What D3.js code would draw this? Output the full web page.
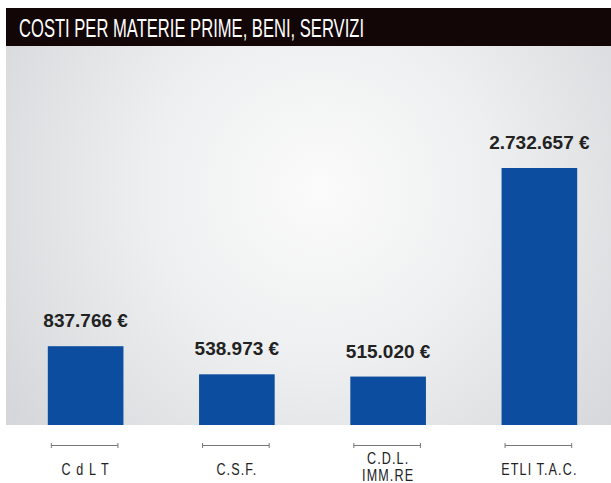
<!DOCTYPE html>
<html>
<head>
<meta charset="utf-8">
<script src="https://cdn.jsdelivr.net/npm/d3@7"></script>
<style>
  body { margin: 0; background: #fff; }
</style>
</head>
<body>
<div id="chart"></div>
<script>
// Data
const categories = ["C d L T", "C.S.F.", "C.D.L.\nIMM.RE", "ETLI T.A.C."];
const values = [837766, 538973, 515020, 2732657];
const valueLabels = ["837.766 €", "538.973 €", "515.020 €", "2.732.657 €"];
const title = "COSTI PER MATERIE PRIME, BENI, SERVIZI";

const W = 611, H = 483;
const panel = { left: 6, top: 46, right: 611, bottom: 425 };

const svg = d3.select("#chart")
  .append("svg")
  .attr("width", W)
  .attr("height", H);

// background gradient
const defs = svg.append("defs");
const grad = defs.append("radialGradient")
  .attr("id", "bg")
  .attr("gradientUnits", "userSpaceOnUse")
  .attr("cx", 320).attr("cy", 190)
  .attr("r", 380);
grad.append("stop").attr("offset", "0%").attr("stop-color", "#fbfbfb");
grad.append("stop").attr("offset", "45%").attr("stop-color", "#eeeff0");
grad.append("stop").attr("offset", "100%").attr("stop-color", "#d6d7da");

svg.append("rect")
  .attr("x", panel.left)
  .attr("y", panel.top)
  .attr("width", panel.right - panel.left)
  .attr("height", panel.bottom - panel.top)
  .attr("fill", "url(#bg)");

// title bar
svg.append("rect")
  .attr("x", 6).attr("y", 8)
  .attr("width", W - 6).attr("height", 38)
  .attr("fill", "#120606");

svg.append("text")
  .attr("x", 19).attr("y", 37)
  .attr("fill", "#fff")
  .style("font-family", "'Liberation Sans', Arial, sans-serif")
  .style("font-size", "25px")
  .attr("textLength", 345)
  .attr("lengthAdjust", "spacingAndGlyphs")
  .text(title);

// scales
const x = d3.scaleBand()
  .domain(categories)
  .range([10, 615])
  .paddingInner(0.5)
  .paddingOuter(0.25);

const y = d3.scaleLinear()
  .domain([0, d3.max(values)])
  .range([panel.bottom, 168]);

const data = categories.map((c, i) => ({ cat: c, value: values[i], label: valueLabels[i] }));

// bars
svg.selectAll(".bar")
  .data(data)
  .join("rect")
  .attr("class", "bar")
  .attr("x", d => x(d.cat))
  .attr("y", d => y(d.value))
  .attr("width", x.bandwidth())
  .attr("height", d => y(0) - y(d.value))
  .attr("fill", "#0c4da0");

// value labels
svg.selectAll(".val")
  .data(data)
  .join("text")
  .attr("class", "val")
  .attr("x", d => x(d.cat) + x.bandwidth() / 2)
  .attr("y", d => y(d.value) - 19)
  .attr("text-anchor", "middle")
  .attr("fill", "#222")
  .style("font-family", "'Liberation Sans', Arial, sans-serif")
  .style("font-weight", "bold")
  .style("font-size", "19px")
  .text(d => d.label);

// axis brackets
const axisG = svg.append("g").attr("stroke", "#777").attr("stroke-width", 1);
data.forEach(d => {
  const x0 = x(d.cat) + 3.5, x1 = x(d.cat) + x.bandwidth() - 5.5;
  axisG.append("line").attr("x1", x0).attr("x2", x1).attr("y1", 445.5).attr("y2", 445.5);
  axisG.append("line").attr("x1", x0).attr("x2", x0).attr("y1", 443).attr("y2", 448);
  axisG.append("line").attr("x1", x1).attr("x2", x1).attr("y1", 443).attr("y2", 448);
});

// category labels (condensed look by horizontal scaling)
svg.selectAll(".cat")
  .data(data)
  .join("text")
  .attr("class", "cat")
  .attr("transform", d => `translate(${x(d.cat) + x.bandwidth() / 2},${d.cat.includes("\n") ? 464 : 475}) scale(0.74,1)`)
  .attr("text-anchor", "middle")
  .attr("fill", "#222")
  .style("font-family", "'Liberation Sans', Arial, sans-serif")
  .style("font-size", "17px")
  .style("letter-spacing", "1.5px")
  .each(function (d) {
    d3.select(this).selectAll("tspan")
      .data(d.cat.split("\n"))
      .join("tspan")
      .attr("x", 0)
      .attr("dy", (l, i) => i === 0 ? 0 : 17)
      .text(l => l);
  });
</script>
</body>
</html>
